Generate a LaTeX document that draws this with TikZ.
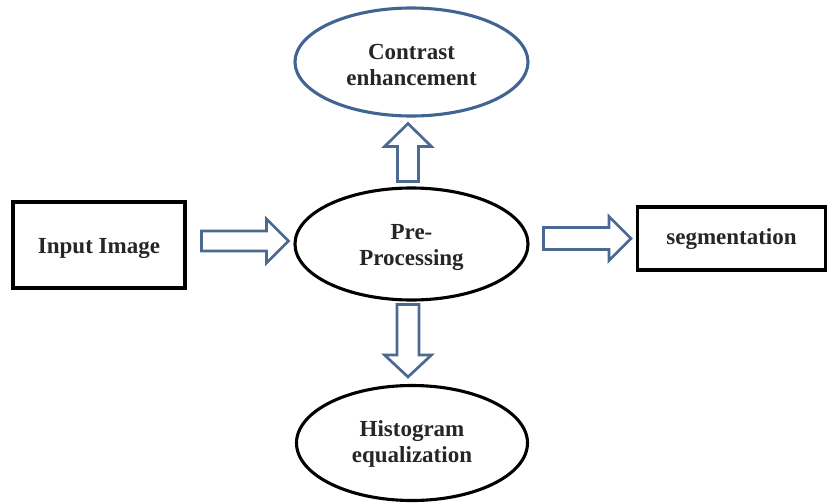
\documentclass[tikz,border=0pt]{standalone}
\usepackage{fontspec}
\setmainfont{Liberation Serif}
\usetikzlibrary{shapes.geometric,calc}
\definecolor{steel}{RGB}{65,100,145}
\definecolor{arrowblue}{RGB}{75,105,145}
% #1 tail, #2 tip, #3 shaft half width, #4 head half width, #5 head length
\newcommand\blockarr[5]{%
  \coordinate (hb) at ($(#2)!#5!(#1)$);
  \draw[blockarrow] ($(#1)!#3!90:(#2)$) -- ($(hb)!#3!90:(#2)$) -- ($(hb)!#4!90:(#2)$)
    -- (#2) -- ($(hb)!#4!-90:(#2)$) -- ($(hb)!#3!-90:(#2)$) -- ($(#1)!#3!-90:(#2)$) -- cycle;}
\begin{document}
\begin{tikzpicture}[x=1pt,y=-1pt,
  lbl/.style={font=\fontsize{23}{26}\selectfont\bfseries, align=center, text=black!85},
  oval/.style={ellipse, draw, line width=3.1pt, inner sep=0pt},
  box/.style={rectangle, draw, line width=3.1pt, inner sep=0pt},
  blockarrow/.style={draw=arrowblue, line width=2.7pt, fill=white, line join=miter}]
\useasboundingbox (0,0) rectangle (827,503);
\node[oval, draw=steel, minimum width=233pt, minimum height=108pt] (ce) at (411.5,62) {};
\node[lbl] at ($(ce)+(0,3)$) {Contrast\\enhancement};
\node[oval, minimum width=233pt, minimum height=112pt] (pp) at (411.5,244) {};
\node[lbl] at ($(pp)+(0,4)$) {Pre-\\Processing};
\node[oval, minimum width=231pt, minimum height=115pt] (he) at (412,443) {};
\node[lbl] at ($(he)+(0,1)$) {Histogram\\equalization};
\node[box, minimum width=172pt, minimum height=86pt] (in) at (99,245) {};
\node[lbl] at ($(in)+(0,4)$) {Input Image};
\node[box, minimum width=188pt, minimum height=63pt] (seg) at (731.5,238.5) {};
\node[lbl] at ($(seg)+(0,1)$) {segmentation};
% connectors (block arrows)
\coordinate (a1h) at ($(pp.west)+(-5,-3)$);
\coordinate (a1t) at ($(in.east |- a1h)+(15,0)$);
\blockarr{a1t}{a1h}{10pt}{22pt}{22pt}
\coordinate (a2h) at ($(seg.west)+(-5,0)$);
\coordinate (a2t) at ($(pp.east |- a2h)+(14,0)$);
\blockarr{a2t}{a2h}{11pt}{22pt}{22pt}
\coordinate (a3h) at ($(ce.south)+(-3.5,6)$);
\coordinate (a3t) at ($(pp.north -| a3h)+(0,-5)$);
\blockarr{a3t}{a3h}{10.5pt}{23.5pt}{23pt}
\coordinate (a4h) at ($(he.north)+(-4,-7)$);
\coordinate (a4t) at ($(pp.south -| a4h)+(0,3)$);
\blockarr{a4t}{a4h}{11pt}{23.5pt}{22pt}
\end{tikzpicture}
\end{document}
